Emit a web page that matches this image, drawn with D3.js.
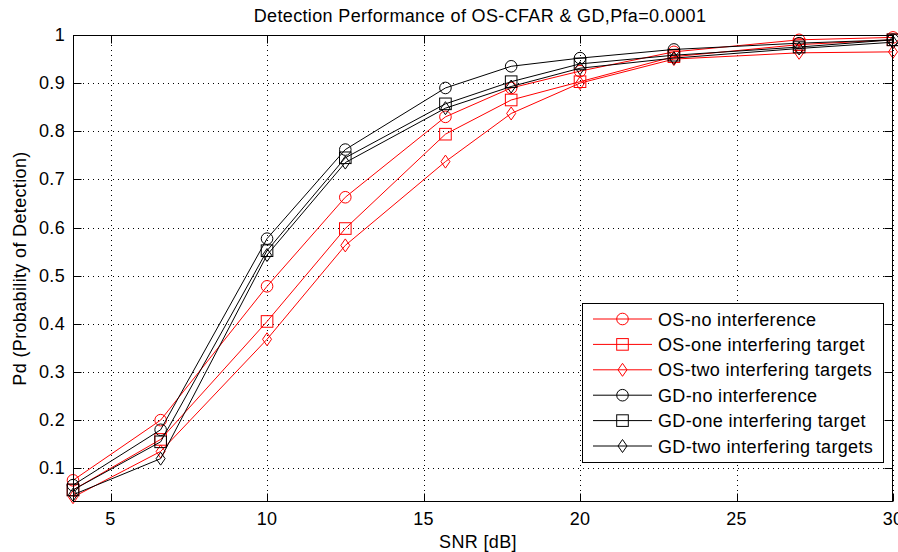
<!DOCTYPE html>
<html>
<head>
<meta charset="utf-8">
<script src="https://cdn.jsdelivr.net/npm/d3@7"></script>
<style>
	body { margin: 0; background: #fff; }
	text { font-family: "Liberation Sans", Arial, sans-serif; fill: #000; letter-spacing: 0.35px; }
</style>
</head>
<body>
<svg id="detectionGraph"></svg>
<script>
// SNR values (dB) shared by every curve
var snr = [3.8, 6.6, 10, 12.5, 15.7, 17.8, 20, 23, 27, 30];

// probability of detection
var osNoInterference   = [0.075, 0.200, 0.478, 0.663, 0.830, 0.890, 0.925, 0.965, 0.990, 0.995];
var osOneInterfering   = [0.055, 0.160, 0.405, 0.598, 0.794, 0.865, 0.903, 0.955, 0.980, 0.990];
var osTwoInterfering   = [0.040, 0.135, 0.368, 0.563, 0.737, 0.837, 0.900, 0.950, 0.963, 0.965];
var gdNoInterference   = [0.065, 0.180, 0.577, 0.762, 0.890, 0.935, 0.952, 0.970, 0.983, 0.990];
var gdOneInterfering   = [0.055, 0.155, 0.552, 0.745, 0.857, 0.903, 0.940, 0.958, 0.975, 0.990];
var gdTwoInterfering   = [0.045, 0.120, 0.543, 0.735, 0.848, 0.893, 0.931, 0.952, 0.972, 0.985];

var seriesNames = ["OS-no interference", "OS-one interfering target", "OS-two interfering targets",
	"GD-no interference", "GD-one interfering target", "GD-two interfering targets"];
var seriesColors = ["#ff0000", "#ff0000", "#ff0000", "#000000", "#000000", "#000000"];
var seriesMarkers = ["circle", "square", "diamond", "circle", "square", "diamond"];

var xTicks = [5, 10, 15, 20, 25, 30];
var yTicks = [0.1, 0.2, 0.3, 0.4, 0.5, 0.6, 0.7, 0.8, 0.9, 1];
var yTickLabels = ["0.1", "0.2", "0.3", "0.4", "0.5", "0.6", "0.7", "0.8", "0.9", "1"];

var titleText = "Detection Performance of OS-CFAR & GD,Pfa=0.0001";
var xLabelText = "SNR [dB]";
var yLabelText = "Pd (Probability of Detection)";

class DetectionGraph {
	constructor(width, height) {
		this.margin = { top: 35, right: 5, bottom: 50, left: 73 };
		this.width = width - this.margin.left - this.margin.right;
		this.height = height - this.margin.top - this.margin.bottom;
		this.fontSize = 18;
		this.tickLength = 8;

		this.svg = d3.select("#detectionGraph")
			.attr("width", width)
			.attr("height", height);
		this.svg.append("rect")
			.attr("width", width)
			.attr("height", height)
			.attr("fill", "#fff");

		this.xScale = d3.scaleLinear().domain([3.8, 30]).range([this.margin.left, this.margin.left + this.width]);
		this.yScale = d3.scaleLinear().domain([0.03, 1]).range([this.margin.top + this.height, this.margin.top]);

		this.series = [osNoInterference, osOneInterfering, osTwoInterfering,
			gdNoInterference, gdOneInterfering, gdTwoInterfering].map(function(values, i) {
			return {
				name: seriesNames[i],
				color: seriesColors[i],
				marker: seriesMarkers[i],
				points: values.map(function(v, j) { return { x: snr[j], y: v }; })
			};
		});

		this.drawGrid();
		this.drawGraph();
		this.drawAxis();
		this.drawLegend();
		this.drawLabels();
	}

	drawGrid() {
		var grid = this.svg.append("g").attr("class", "grid")
			.attr("stroke", "#000")
			.attr("stroke-width", 1)
			.attr("stroke-dasharray", "1,4");
		grid.selectAll(".vGrid")
			.data(xTicks)
			.enter()
			.append("line")
			.attr("class", "vGrid")
			.attr("x1", function(d) { return Math.round(this.xScale(d)) + 0.5; }.bind(this))
			.attr("x2", function(d) { return Math.round(this.xScale(d)) + 0.5; }.bind(this))
			.attr("y1", this.margin.top)
			.attr("y2", this.margin.top + this.height);
		grid.selectAll(".hGrid")
			.data(yTicks)
			.enter()
			.append("line")
			.attr("class", "hGrid")
			.attr("y1", function(d) { return Math.round(this.yScale(d)) + 0.5; }.bind(this))
			.attr("y2", function(d) { return Math.round(this.yScale(d)) + 0.5; }.bind(this))
			.attr("x1", this.margin.left)
			.attr("x2", this.margin.left + this.width);
	}

	drawMarker(g, type, color) {
		if (type == "circle") {
			g.append("circle").attr("r", 5.8);
		}
		else if (type == "square") {
			g.append("rect").attr("x", -5.8).attr("y", -5.8).attr("width", 11.6).attr("height", 11.6);
		}
		else {
			g.append("path").attr("d", "M0,-6.5L4.5,0L0,6.5L-4.5,0Z");
		}
		g.selectAll("*")
			.attr("fill", "none")
			.attr("stroke", color)
			.attr("stroke-width", 1);
	}

	drawGraph() {
		var line = d3.line()
			.x(function(d) { return this.xScale(d.x); }.bind(this))
			.y(function(d) { return this.yScale(d.y); }.bind(this));

		var self = this;
		var groups = this.svg.selectAll(".series")
			.data(this.series)
			.enter()
			.append("g")
			.attr("class", "series");

		groups.append("path")
			.attr("d", function(d) { return line(d.points); })
			.attr("fill", "none")
			.attr("stroke", function(d) { return d.color; })
			.attr("stroke-width", 1);

		groups.each(function(s) {
			d3.select(this).selectAll(".marker")
				.data(s.points)
				.enter()
				.append("g")
				.attr("class", "marker")
				.attr("transform", function(d) { return "translate(" + self.xScale(d.x) + "," + self.yScale(d.y) + ")"; })
				.each(function() { self.drawMarker(d3.select(this), s.marker, s.color); });
		});
	}

	drawAxis() {
		var left = this.margin.left + 0.5;
		var right = this.margin.left + this.width - 0.5;
		var top = this.margin.top + 0.5;
		var bottom = this.margin.top + this.height - 0.5;

		var axis = this.svg.append("g").attr("class", "axis")
			.attr("stroke", "#000")
			.attr("stroke-width", 1);

		axis.append("rect")
			.attr("x", left)
			.attr("y", top)
			.attr("width", right - left)
			.attr("height", bottom - top)
			.attr("fill", "none");

		xTicks.forEach(function(t) {
			var x = Math.round(this.xScale(t)) + 0.5;
			axis.append("line").attr("x1", x).attr("x2", x).attr("y1", bottom).attr("y2", bottom - this.tickLength);
			axis.append("line").attr("x1", x).attr("x2", x).attr("y1", top).attr("y2", top + this.tickLength);
		}.bind(this));
		yTicks.forEach(function(t) {
			var y = Math.round(this.yScale(t)) + 0.5;
			axis.append("line").attr("y1", y).attr("y2", y).attr("x1", left).attr("x2", left + this.tickLength);
			axis.append("line").attr("y1", y).attr("y2", y).attr("x1", right).attr("x2", right - this.tickLength);
		}.bind(this));

		this.svg.selectAll(".xTickLabel")
			.data(xTicks)
			.enter()
			.append("text")
			.attr("class", "xTickLabel")
			.attr("x", function(d) { return this.xScale(d); }.bind(this))
			.attr("y", this.margin.top + this.height + 23)
			.attr("text-anchor", "middle")
			.style("font-size", this.fontSize + "px")
			.text(function(d) { return d; });

		this.svg.selectAll(".yTickLabel")
			.data(yTicks)
			.enter()
			.append("text")
			.attr("class", "yTickLabel")
			.attr("x", this.margin.left - 8)
			.attr("y", function(d) { return this.yScale(d) + 6; }.bind(this))
			.attr("text-anchor", "end")
			.style("font-size", this.fontSize + "px")
			.text(function(d, i) { return yTickLabels[i]; });
	}

	drawLegend() {
		var box = { x: 582, y: 303, width: 301, height: 159 };
		var rowHeight = 25.4;
		var legend = this.svg.append("g").attr("class", "legend");
		legend.append("rect")
			.attr("x", box.x + 0.5)
			.attr("y", box.y + 0.5)
			.attr("width", box.width)
			.attr("height", box.height)
			.attr("fill", "#fff")
			.attr("stroke", "#000")
			.attr("stroke-width", 1);

		var self = this;
		var rows = legend.selectAll(".legendRow")
			.data(this.series)
			.enter()
			.append("g")
			.attr("class", "legendRow")
			.attr("transform", function(d, i) { return "translate(" + box.x + "," + (box.y + 16 + i * rowHeight) + ")"; });
		rows.append("line")
			.attr("x1", 11)
			.attr("x2", 70)
			.attr("stroke", function(d) { return d.color; })
			.attr("stroke-width", 1);
		rows.append("g")
			.attr("transform", "translate(40.5,0)")
			.each(function(d) { self.drawMarker(d3.select(this), d.marker, d.color); });
		rows.append("text")
			.attr("x", 76)
			.attr("y", 6.5)
			.style("font-size", this.fontSize + "px")
			.text(function(d) { return d.name; });
	}

	drawLabels() {
		var cx = this.margin.left + this.width / 2;
		this.svg.append("text")
			.attr("x", cx - 3)
			.attr("y", 22)
			.attr("text-anchor", "middle")
			.style("font-size", this.fontSize + "px")
			.text(titleText);
		this.svg.append("text")
			.attr("x", cx - 5)
			.attr("y", this.margin.top + this.height + 46)
			.attr("text-anchor", "middle")
			.style("font-size", this.fontSize + "px")
			.text(xLabelText);
		this.svg.append("text")
			.attr("transform", "translate(26," + (this.margin.top + this.height / 2) + ") rotate(-90)")
			.attr("text-anchor", "middle")
			.style("font-size", this.fontSize + "px")
			.text(yLabelText);
	}
}

var graph = new DetectionGraph(898, 552);
</script>
</body>
</html>
